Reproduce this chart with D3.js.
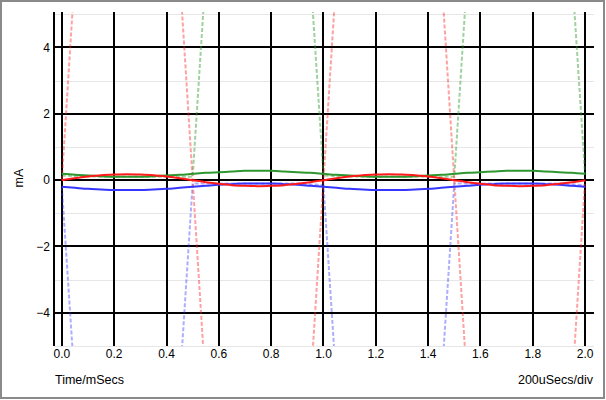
<!DOCTYPE html>
<html>
<head>
<meta charset="utf-8">
<script src="https://cdn.jsdelivr.net/npm/d3@7"></script>
<style>
  html, body { margin: 0; padding: 0; background: #fff; }
  svg { display: block; }
  text { font-family: "Liberation Sans", Arial, sans-serif; fill: #000; }
</style>
</head>
<body>
<svg id="chart" width="606" height="400"></svg>
<script>
// ---- data ----
const solidTime = [0,0.05,0.1,0.15,0.2,0.25,0.3,0.35,0.4,0.45,0.5,0.55,0.6,0.65,0.7,0.75,0.8,0.85,0.9,0.95,1.0,
                   1.05,1.1,1.15,1.2,1.25,1.3,1.35,1.4,1.45,1.5,1.55,1.6,1.65,1.7,1.75,1.8,1.85,1.9,1.95,2.0];
const redSolid   = [0,0.06,0.11,0.15,0.17,0.18,0.17,0.15,0.11,0.06,0,-0.06,-0.11,-0.15,-0.17,-0.18,-0.17,-0.15,-0.11,-0.06,0,
                    0.06,0.11,0.15,0.17,0.18,0.17,0.15,0.11,0.06,0,-0.06,-0.11,-0.15,-0.17,-0.18,-0.17,-0.15,-0.11,-0.06,0];
const greenSolid = [0.19,0.16,0.14,0.12,0.10,0.10,0.10,0.12,0.14,0.16,0.19,0.22,0.24,0.26,0.28,0.28,0.28,0.26,0.24,0.22,0.19,
                    0.16,0.14,0.12,0.10,0.10,0.10,0.12,0.14,0.16,0.19,0.22,0.24,0.26,0.28,0.28,0.28,0.26,0.24,0.22,0.19];
const blueSolid  = [-0.20,-0.23,-0.26,-0.28,-0.30,-0.30,-0.30,-0.28,-0.26,-0.23,-0.20,-0.17,-0.14,-0.12,-0.10,-0.10,-0.10,-0.12,-0.14,-0.17,-0.20,
                    -0.23,-0.26,-0.28,-0.30,-0.30,-0.30,-0.28,-0.26,-0.23,-0.20,-0.17,-0.14,-0.12,-0.10,-0.10,-0.10,-0.12,-0.14,-0.17,-0.20];

const redDashTime = [0,0.04,0.08,0.25,0.42,0.46,0.5,0.54,0.58,0.75,0.92,0.96,1.0,1.04,1.08,1.25,1.42,1.46,1.5,1.54,1.58,1.75,1.92,1.96,2.0];
const redDash     = [0,5,10,20,10,5,0,-5,-10,-20,-10,-5,0,5,10,20,10,5,0,-5,-10,-20,-10,-5,0];

const greenDashTime = [0,0.1,0.2,0.3,0.4,0.5,0.54,0.58,0.75,0.92,0.96,1.0,1.1,1.2,1.3,1.4,1.5,1.54,1.58,1.75,1.92,1.96,2.0];
const greenDash     = [0.14,0.11,0.1,0.1,0.1,0.1,5,10,20,10,5,0.14,0.11,0.1,0.1,0.1,0.1,5,10,20,10,5,0.16];

const blueDashTime = [0,0.04,0.08,0.25,0.42,0.46,0.5,0.6,0.7,0.8,0.9,1.0,1.04,1.08,1.25,1.42,1.46,1.5,1.6,1.7,1.8,1.9,2.0];
const blueDash     = [-0.2,-5,-10,-20,-10,-5,-0.1,-0.1,-0.1,-0.1,-0.1,-0.15,-5,-10,-20,-10,-5,-0.1,-0.1,-0.1,-0.1,-0.1,-0.15];

const xTickValues = [0,0.2,0.4,0.6,0.8,1.0,1.2,1.4,1.6,1.8,2.0];
const xTickLabels = ["0.0","0.2","0.4","0.6","0.8","1.0","1.2","1.4","1.6","1.8","2.0"];
const yMajor = [-4,-2,0,2,4];
const yMajorLabels = ["\u22124","\u22122","0","2","4"];
const yMinor = [-5,-3,-1,1,3,5];
const xTitle = "Time/mSecs";
const xScaleNote = "200uSecs/div";
const yTitle = "mA";

// ---- layout ----
const svg = d3.select("#chart");
const L = 54, R = 594, T = 12, B = 346;
const x = d3.scaleLinear().domain([-0.03, 2.034]).range([L, R]);
const y = d3.scaleLinear().domain([-5, 5.07]).range([B, T]);

// frame
svg.append("rect").attr("x",1).attr("y",1).attr("width",603).attr("height",397)
  .attr("fill","#fff").attr("stroke","#8a8a8a").attr("stroke-width",2);

// minor grid
svg.append("g").selectAll("line").data(yMinor).join("line")
  .attr("x1", L).attr("x2", R).attr("y1", d => Math.round(y(d))+0.5).attr("y2", d => Math.round(y(d))+0.5)
  .attr("stroke", "#e6e6e6").attr("stroke-width", 1);

// major grid
svg.append("g").selectAll("line").data(yMajor).join("line")
  .attr("x1", L).attr("x2", R).attr("y1", d => Math.round(y(d))).attr("y2", d => Math.round(y(d)))
  .attr("stroke", "#000").attr("stroke-width", 2);
svg.append("g").selectAll("line").data(xTickValues).join("line")
  .attr("x1", d => Math.round(x(d))).attr("x2", d => Math.round(x(d))).attr("y1", T).attr("y2", B)
  .attr("stroke", "#000").attr("stroke-width", 2);
// left axis line
svg.append("line").attr("x1",L).attr("x2",L).attr("y1",T).attr("y2",B)
  .attr("stroke","#000").attr("stroke-width",2);

// tick labels
svg.append("g").selectAll("text").data(xTickValues).join("text")
  .attr("x", d => x(d)).attr("y", 358).attr("text-anchor","middle")
  .attr("font-size", 12).text((d,i) => xTickLabels[i]);
svg.append("g").selectAll("text").data(yMajor).join("text")
  .attr("x", 50).attr("y", d => y(d)).attr("dy","0.36em").attr("text-anchor","end")
  .attr("font-size", 12).text((d,i) => yMajorLabels[i]);

// titles
svg.append("text").attr("x",55).attr("y",384).attr("font-size",12.5).text(xTitle);
svg.append("text").attr("x",593).attr("y",384).attr("font-size",12.5).attr("text-anchor","end").text(xScaleNote);
svg.append("text").attr("transform","translate(23,178) rotate(-90)").attr("text-anchor","middle")
  .attr("font-size",12.5).text(yTitle);

// clip
svg.append("clipPath").attr("id","plotclip").append("rect")
  .attr("x",L).attr("y",T).attr("width",R-L).attr("height",B-T);
const plot = svg.append("g").attr("clip-path","url(#plotclip)");

function draw(ts, vs, color, width, dash, curve, opacity) {
  const pts = ts.map((t,i) => [t, vs[i]]);
  const line = d3.line().x(d => x(d[0])).y(d => y(d[1])).curve(curve);
  plot.append("path").datum(pts).attr("d", line)
    .attr("fill","none").attr("stroke",color).attr("stroke-width",width)
    .attr("stroke-opacity", opacity)
    .attr("stroke-dasharray", dash);
}

// dashed traces
draw(greenDashTime, greenDash, "#2a9a2a", 2, "4,2", d3.curveLinear, 0.45);
draw(blueDashTime, blueDash, "#3333ff", 2, "4,2", d3.curveLinear, 0.4);
draw(redDashTime, redDash, "#ff2020", 2, "4,2", d3.curveLinear, 0.42);

// solid traces
draw(solidTime, greenSolid, "#2e962e", 2, null, d3.curveMonotoneX, 1);
draw(solidTime, blueSolid, "#3535ff", 2, null, d3.curveMonotoneX, 1);
draw(solidTime, redSolid, "#ff1a1a", 2, null, d3.curveMonotoneX, 1);
</script>
</body>
</html>
